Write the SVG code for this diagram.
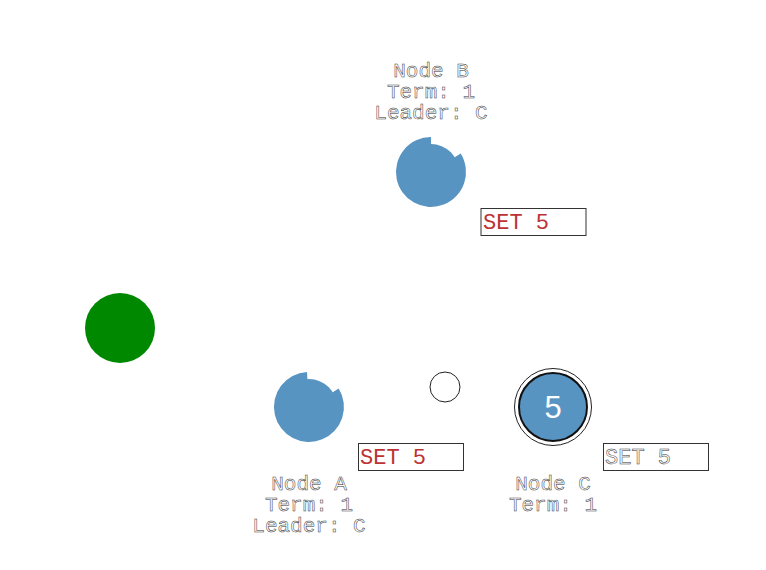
<svg xmlns="http://www.w3.org/2000/svg" width="766" height="570" viewBox="0 0 766 570">
<style>
.lbl{font-family:"Liberation Mono","Courier New",monospace;font-size:21px;fill:#fff;stroke:#333;stroke-width:0.5;text-anchor:middle}
.set{font-family:"Liberation Mono","Courier New",monospace;font-size:22px;fill:#b33;}
.setc{font-family:"Liberation Mono","Courier New",monospace;font-size:22px;fill:#fff;stroke:#333;stroke-width:0.5}
.box{fill:#fff;stroke:#333;stroke-width:1}
.node{fill:#5894c2}
</style>
<rect width="766" height="570" fill="#fff"/>
<g id="client">
<circle cx="120" cy="328" r="35" fill="#008800"/>
</g>
<g id="nodeB">
<circle class="node" cx="431" cy="172" r="28"/>
<path class="node" d="M431,172 L460.7,153.5 A35,35 0 1 1 431,137 Z"/>
<text class="lbl" x="431" y="77">Node B</text>
<text class="lbl" x="431" y="98">Term: 1</text>
<text class="lbl" x="431" y="119">Leader: C</text>
</g>
<g id="nodeA">
<circle class="node" cx="309" cy="407" r="28"/>
<path class="node" d="M309,407 L338.7,388.5 A35,35 0 1 1 307,372 Z"/>
<text class="lbl" x="309" y="490">Node A</text>
<text class="lbl" x="309" y="511">Term: 1</text>
<text class="lbl" x="309" y="532">Leader: C</text>
</g>
<g id="nodeC">
<circle cx="553" cy="407" r="38.5" fill="none" stroke="#222" stroke-width="1"/>
<circle class="node" cx="553" cy="407" r="34" stroke="#111" stroke-width="2"/>
<text x="553" y="418" font-family="Liberation Sans,Arial,sans-serif" font-size="31" fill="#fff" text-anchor="middle">5</text>
<text class="lbl" x="553" y="490">Node C</text>
<text class="lbl" x="553" y="511">Term: 1</text>
</g>
<g id="message">
<circle cx="445" cy="387" r="15" fill="#fff" stroke="#222" stroke-width="1"/>
</g>
<g id="setB">
<rect class="box" x="481" y="208.5" width="105" height="27"/>
<text class="set" x="483" y="229">SET 5</text>
</g>
<g id="setA">
<rect class="box" x="358.5" y="443.5" width="105" height="27"/>
<text class="set" x="360" y="464">SET 5</text>
</g>
<g id="setC">
<rect class="box" x="603.5" y="443.5" width="105" height="27"/>
<text class="setc" x="605" y="464">SET 5</text>
</g>
<g id="connectors"></g>
</svg>
